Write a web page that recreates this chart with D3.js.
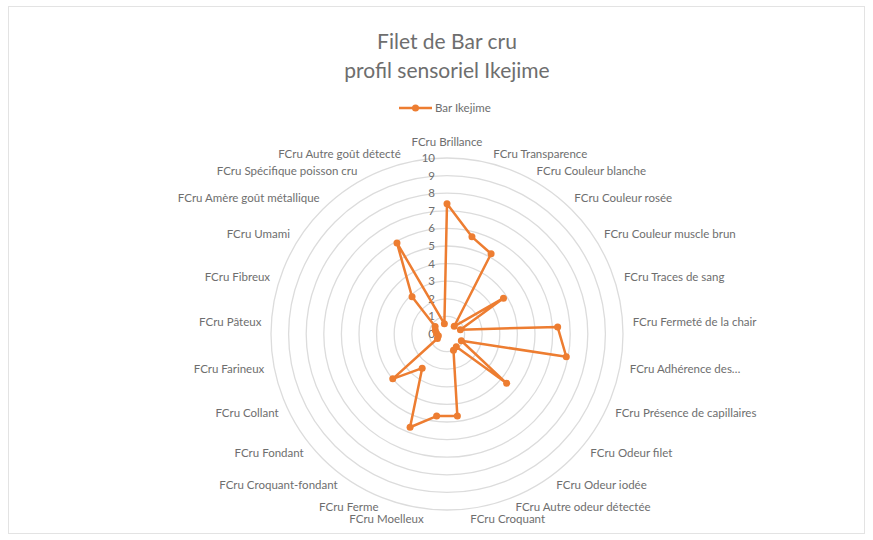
<!DOCTYPE html>
<html>
<head>
<meta charset="utf-8">
<script src="https://cdn.jsdelivr.net/npm/d3@7"></script>
<style>
  body { margin: 0; background: #fff; }
  text { font-family: Lato, "Open Sans", sans-serif; fill: #6e6e6e; }
</style>
</head>
<body>
<div id="chart"></div>
<script>
//-------------------SET-UP, DATA, & VARIABLES--------------------------
var width = 873;
var height = 540;

// Categories, clockwise from the top
var categories = [
    "FCru Brillance", "FCru Transparence", "FCru Couleur blanche", "FCru Couleur rosée",
    "FCru Couleur muscle brun", "FCru Traces de sang", "FCru Fermeté de la chair",
    "FCru Adhérence des…", "FCru Présence de capillaires", "FCru Odeur filet",
    "FCru Odeur iodée", "FCru Autre odeur détectée", "FCru Croquant", "FCru Moelleux",
    "FCru Ferme", "FCru Croquant-fondant", "FCru Fondant", "FCru Collant",
    "FCru Farineux", "FCru Pâteux", "FCru Fibreux", "FCru Umami",
    "FCru Amère goût métallique", "FCru Spécifique poisson cru", "FCru Autre goût détecté"
];

// Bar Ikejime scores
var barIkejime = [
    7.4, 5.7, 5.2, 0.6,
    3.8, 0.8, 6.3,
    6.9, 0.9, 4.4,
    0.9, 1.0, 4.7, 4.7,
    5.7, 2.4, 4.0, 0.6,
    0.5, 0.6, 0.7, 0.8,
    2.9, 5.9, 0.6
];

var tickValues = [0, 1, 2, 3, 4, 5, 6, 7, 8, 9, 10];
var seriesName = "Bar Ikejime";
var titleLines = ["Filet de Bar cru", "profil sensoriel Ikejime"];

var cx = 447, cy = 334;
var orange = "#ED7D31";

var rScale = d3.scaleLinear().domain([0, 10]).range([0, 176]);
var aScale = d3.scaleLinear().domain([0, categories.length]).range([0, 2 * Math.PI]);

var svg = d3.select("#chart")
    .append("svg")
    .attr("width", width)
    .attr("height", height);

// light frame round the chart area
svg.append("rect")
    .attr("x", 8.5).attr("y", 6.5)
    .attr("width", 856).attr("height", 527)
    .attr("fill", "none")
    .attr("stroke", "#e3e3e3");

//-------------------TITLE & LEGEND--------------------------
svg.selectAll(".title")
    .data(titleLines)
    .enter()
    .append("text")
    .attr("class", "title")
    .attr("x", cx)
    .attr("y", function(d, i) { return 49 + i * 29; })
    .attr("text-anchor", "middle")
    .style("font-size", "21px")
    .text(function(d) { return d; });

var legend = svg.append("g").attr("transform", "translate(399,108)");
legend.append("line")
    .attr("x1", 0).attr("x2", 33)
    .attr("stroke", orange).attr("stroke-width", 2.5);
legend.append("circle")
    .attr("cx", 16.5).attr("r", 3.5)
    .attr("fill", orange);
legend.append("text")
    .attr("x", 36).attr("dy", "0.35em")
    .style("font-size", "11.5px")
    .text(seriesName);

//-------------------GRID--------------------------
var plot = svg.append("g").attr("transform", "translate(" + cx + "," + cy + ")");

plot.selectAll(".grid")
    .data(tickValues.slice(1))
    .enter()
    .append("circle")
    .attr("class", "grid")
    .attr("r", function(v) { return rScale(v); })
    .attr("fill", "none")
    .attr("stroke", "#dcdcdc")
    .attr("stroke-width", 1.3);

// value labels along the first spoke
plot.selectAll(".tick")
    .data(tickValues)
    .enter()
    .append("text")
    .attr("class", "tick")
    .attr("x", -12)
    .attr("y", function(d) { return -rScale(d); })
    .attr("dy", "0.35em")
    .attr("text-anchor", "end")
    .style("font-size", "11.5px")
    .text(function(d) { return d; });

// category labels round the outside
plot.selectAll(".cat")
    .data(categories)
    .enter()
    .append("text")
    .attr("class", "cat")
    .attr("x", function(d, i) { return 186 * Math.sin(aScale(i)); })
    .attr("y", function(d, i) { return -186 * Math.cos(aScale(i)); })
    .attr("dy", function(d, i) { return i === 0 ? "-0.2em" : "0.35em"; })
    .attr("text-anchor", function(d, i) {
        var s = Math.sin(aScale(i));
        return s > 0.01 ? "start" : (s < -0.01 ? "end" : "middle");
    })
    .style("font-size", "11.5px")
    .text(function(d) { return d; });

//-------------------SERIES--------------------------
var seriesLine = d3.lineRadial()
    .angle(function(d, i) { return aScale(i); })
    .radius(function(d) { return rScale(d); })
    .curve(d3.curveLinearClosed);

plot.append("path")
    .datum(barIkejime)
    .attr("d", seriesLine)
    .attr("fill", "none")
    .attr("stroke", orange)
    .attr("stroke-width", 2.5)
    .attr("stroke-linejoin", "round");

plot.selectAll(".pt")
    .data(barIkejime)
    .enter()
    .append("circle")
    .attr("class", "pt")
    .attr("cx", function(d, i) { return rScale(d) * Math.sin(aScale(i)); })
    .attr("cy", function(d, i) { return -rScale(d) * Math.cos(aScale(i)); })
    .attr("r", 3.5)
    .attr("fill", orange);
</script>
</body>
</html>
